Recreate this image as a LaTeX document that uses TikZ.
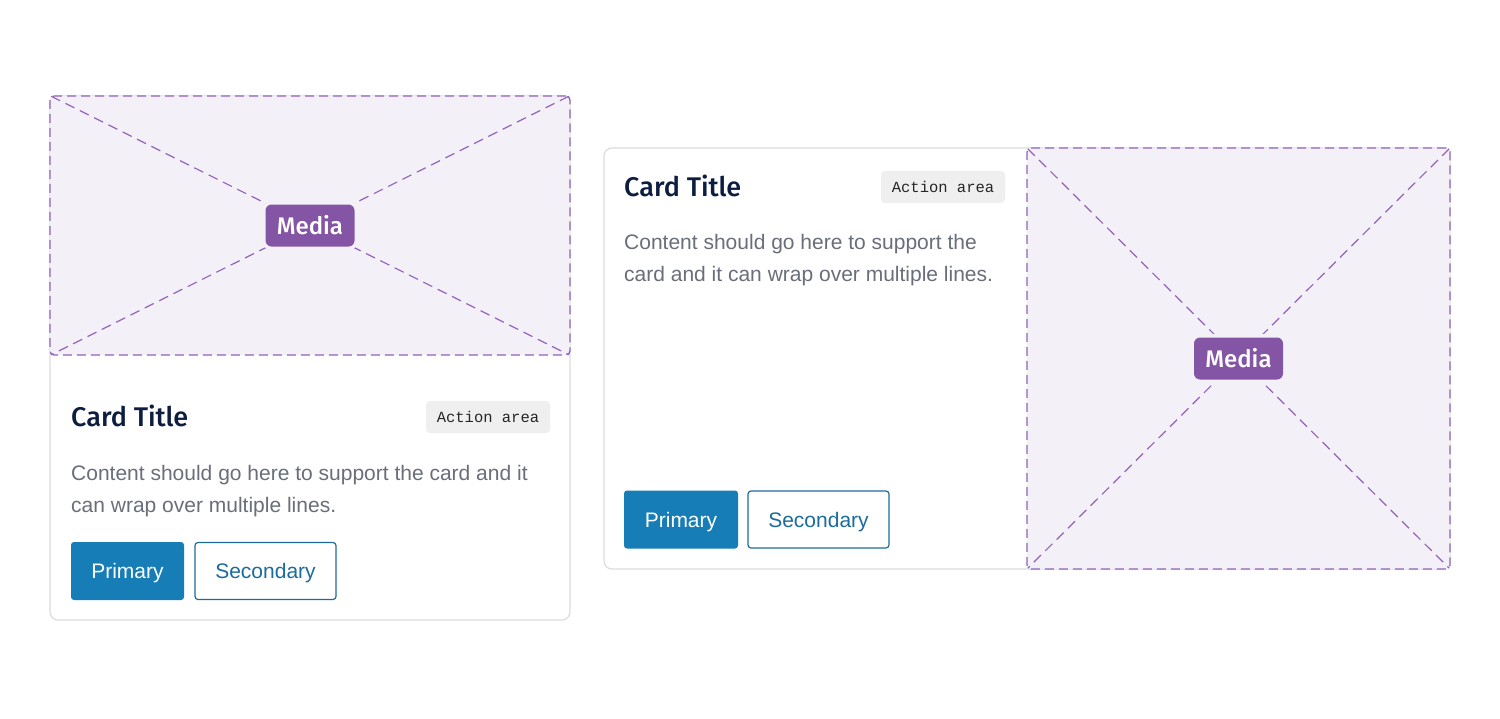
\documentclass[tikz,border=0pt]{standalone}
\usepackage{fontspec}
\setmainfont{Liberation Sans}
\setmonofont{Liberation Mono}
\newfontfamily\titlefont[BoldFont={Fira Sans Medium}]{Fira Sans}

\definecolor{mediafill}{HTML}{F4F0F8}
\definecolor{medialine}{HTML}{9163BA}
\definecolor{mediatag}{HTML}{8455A4}
\definecolor{cardline}{HTML}{DCDCDE}
\definecolor{titleink}{HTML}{0C1D40}
\definecolor{bodyink}{HTML}{6A6E7A}
\definecolor{primaryblue}{HTML}{167DB6}
\definecolor{secondaryblue}{HTML}{1B6C9C}
\definecolor{tagfill}{HTML}{F0EFEF}

\begin{document}
\begin{tikzpicture}[x=1pt,y=-1pt,
    card/.style={draw=cardline,line width=1.2pt,rounded corners=8pt,fill=white},
    media/.style={draw=medialine,fill=mediafill,line width=1.3pt,dash pattern=on 9pt off 5pt,rounded corners=4pt,inner sep=0pt},
    diag/.style={draw=medialine,line width=1.2pt,dash pattern=on 10pt off 6pt,shorten <=2pt,shorten >=2pt},
    mediatag/.style={preaction={draw=mediafill,line width=7pt},fill=mediatag,text=white,rounded corners=6pt,minimum width=89pt,minimum height=42pt,inner sep=0pt,font=\titlefont\bfseries\fontsize{24}{24}\selectfont},
    cardtitle/.style={anchor=base west,inner sep=0pt,text=titleink,font=\titlefont\bfseries\fontsize{27}{27}\selectfont},
    actionarea/.style={fill=tagfill,rounded corners=4pt,minimum width=124pt,minimum height=32pt,inner sep=0pt,text=black!85,font=\ttfamily\fontsize{15.5}{15.5}\selectfont},
    bodytext/.style={anchor=north west,inner sep=0pt,text=bodyink,align=left,font=\fontsize{21}{32}\selectfont},
    primarybtn/.style={fill=primaryblue,text=white,rounded corners=3pt,minimum height=58pt,inner sep=0pt,text height=15pt,text depth=0pt,font=\fontsize{21}{21}\selectfont},
    secondarybtn/.style={draw=secondaryblue,line width=1.2pt,fill=white,text=secondaryblue,rounded corners=3pt,minimum height=57pt,inner sep=0pt,text height=15pt,text depth=0pt,font=\fontsize{21}{21}\selectfont}]
  \useasboundingbox[fill=white] (0,0) rectangle (1500,718);

  % stacked card
  \draw[card] (50,96) rectangle (570,620);
  \node[media,minimum width=520pt,minimum height=259pt] (mediaA) at (310,225.5) {};
  \draw[diag] (mediaA.north west) -- (mediaA.south east);
  \draw[diag] (mediaA.north east) -- (mediaA.south west);
  \node[mediatag] (tagA) at (mediaA.center) {Media};
  \node[cardtitle] (titleA) at (71,426.5) {Card Title};
  \node[actionarea] (actionA) at (488,417) {Action area};
  \node[bodytext] (bodyA) at (71,465) {Content should go here to support the card and it\\can wrap over multiple lines.};
  \node[primarybtn,minimum width=113pt] (primaryA) at (127.5,571) {Primary};
  \node[secondarybtn,minimum width=141pt] (secondaryA) at (265.5,571) {Secondary};

  % side card
  \draw[card] (604,148) rectangle (1450,569);
  \node[media,minimum width=423pt,minimum height=421pt] (mediaB) at (1238.5,358.5) {};
  \draw[diag] (mediaB.north west) -- (mediaB.south east);
  \draw[diag] (mediaB.north east) -- (mediaB.south west);
  \node[mediatag] (tagB) at (mediaB.center) {Media};
  \node[cardtitle] (titleB) at (624,196) {Card Title};
  \node[actionarea] (actionB) at (943,187) {Action area};
  \node[bodytext] (bodyB) at (624,234.5) {Content should go here to support the\\card and it can wrap over multiple lines.};
  \node[primarybtn,minimum width=114pt] (primaryB) at (681,519.5) {Primary};
  \node[secondarybtn,minimum width=141pt] (secondaryB) at (818.5,519.5) {Secondary};
\end{tikzpicture}
\end{document}
